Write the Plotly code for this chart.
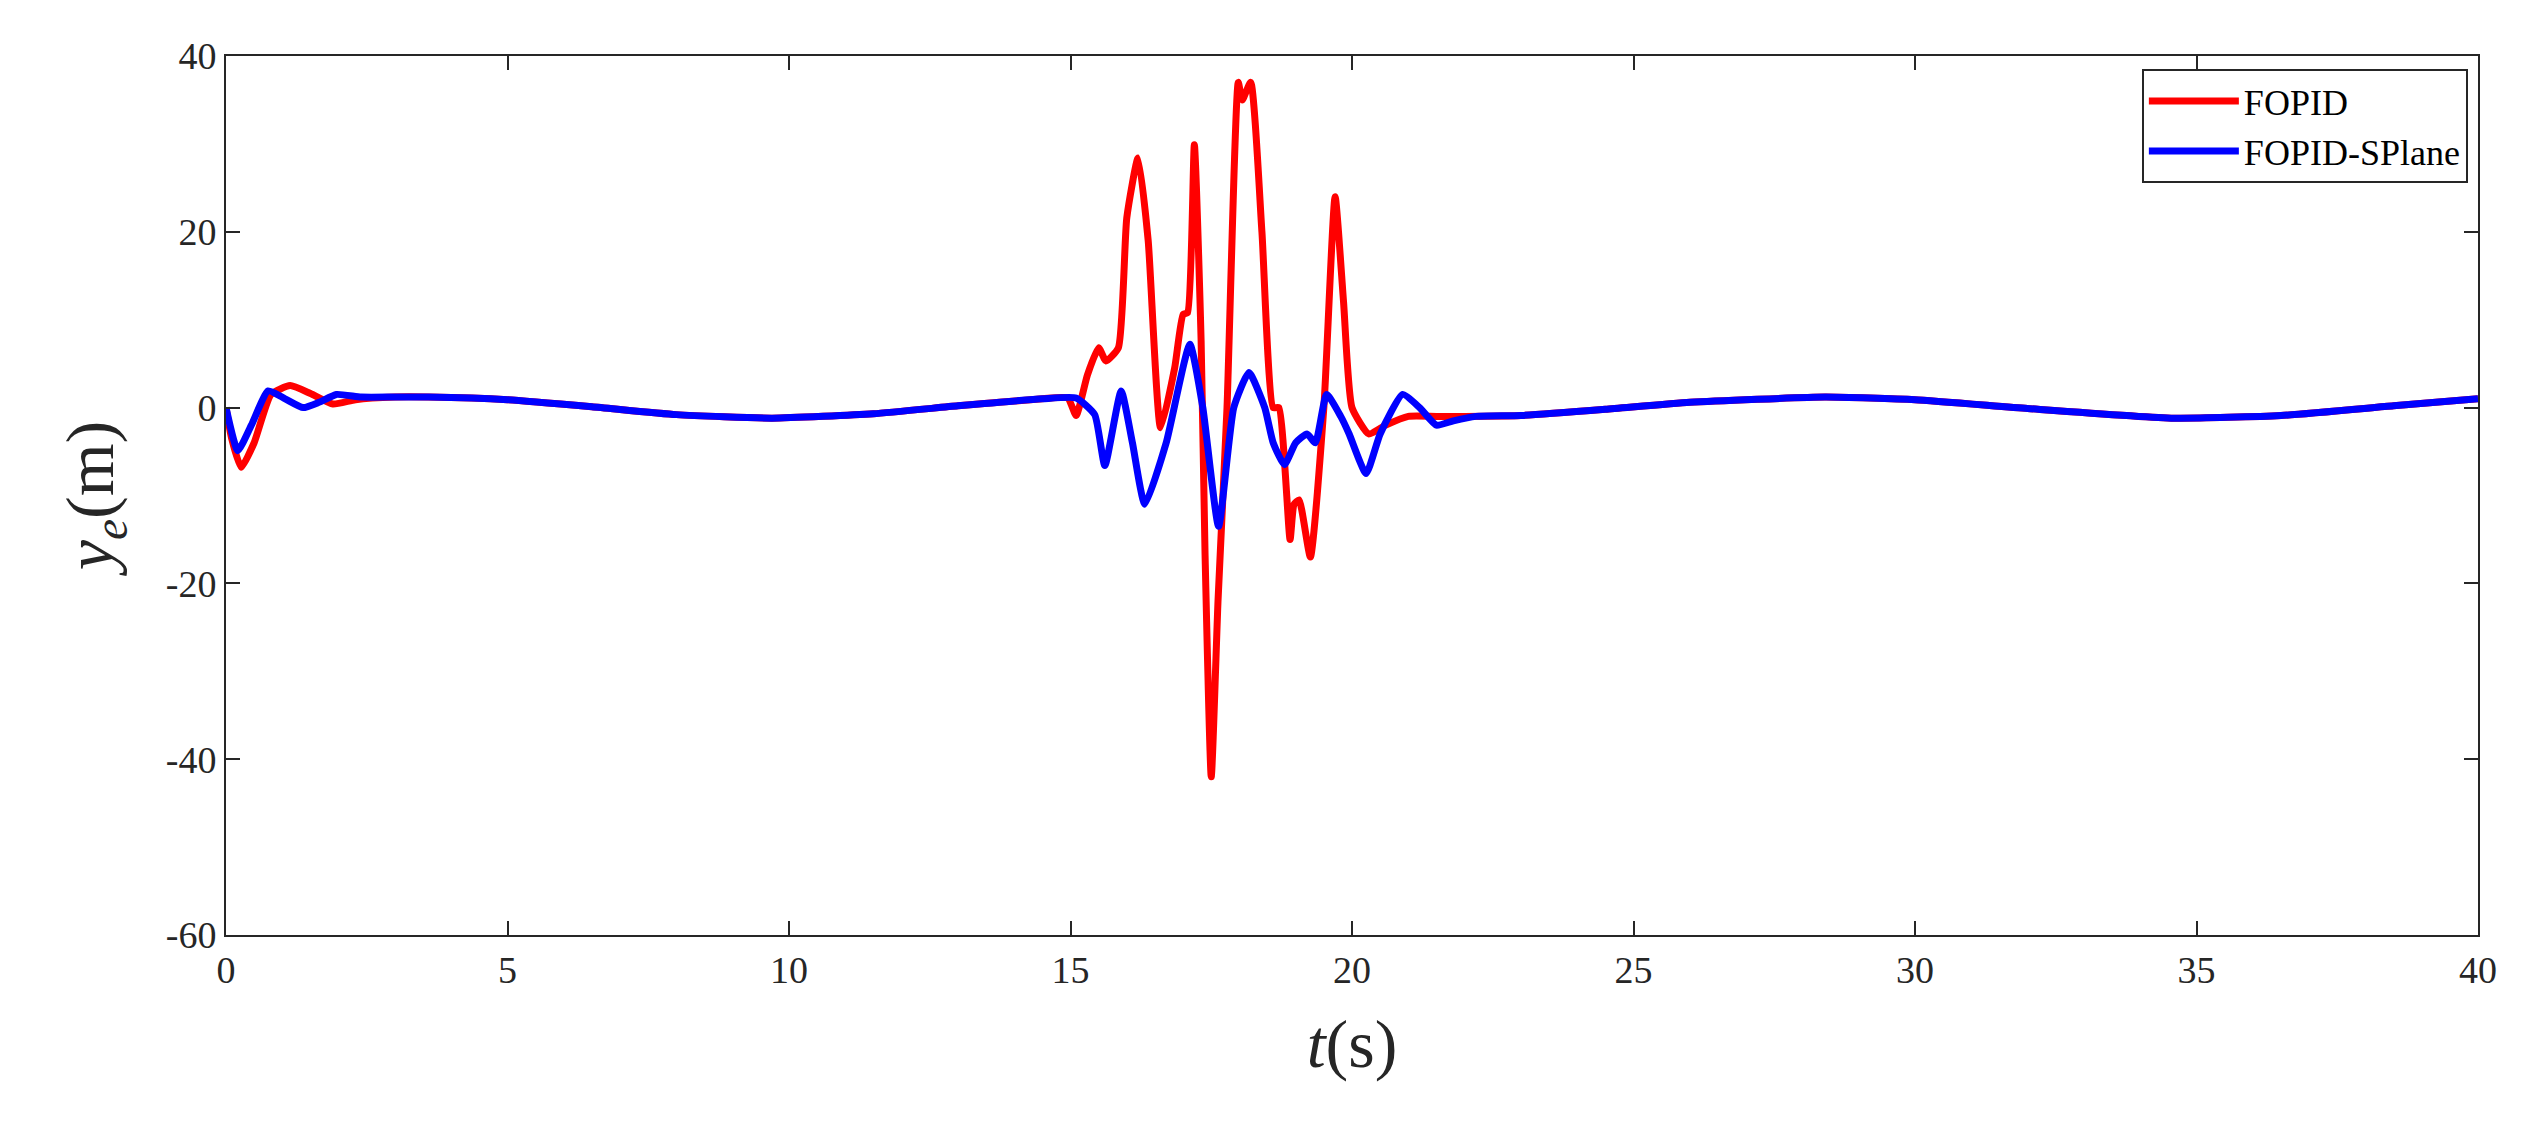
import plotly.graph_objects as go

t_red = [0, 0.1, 0.27, 0.5, 0.8, 1.14, 1.5, 1.9, 2.3, 3.0, 3.6, 5.0, 6.5, 8.0, 9.7, 11.5, 13.0, 14.5, 14.95, 15.1, 15.3, 15.5, 15.63, 15.85, 16.0, 16.2, 16.38, 16.6, 16.85, 17.0, 17.08, 17.2, 17.32, 17.39, 17.5, 17.62, 17.78, 17.98, 18.05, 18.2, 18.4, 18.6, 18.7, 18.9, 18.97, 19.06, 19.26, 19.5, 19.7, 19.85, 20.0, 20.3, 20.6, 21.0, 21.5, 22.0, 23.0, 24.5, 26.0, 28.4, 30.0, 32.0, 34.6, 36.5, 38.5, 40.0]
y_red = [0, -3.5, -6.8, -4.0, 1.5, 2.5, 1.6, 0.4, 0.9, 1.2, 1.2, 0.9, 0.1, -0.8, -1.2, -0.7, 0.2, 1.0, 1.1, -0.9, 3.7, 6.8, 5.3, 6.8, 21.6, 28.4, 19.0, -2.3, 4.5, 10.6, 10.8, 29.9, 7.6, -16.7, -42.0, -22.0, 0.0, 37.0, 35.0, 37.0, 20.0, 0.0, 0.0, -15.0, -11.0, -10.5, -17.0, 0.0, 24.0, 12.0, 0.0, -3.0, -2.0, -1.0, -1.0, -1.0, -0.9, -0.2, 0.6, 1.2, 0.9, -0.1, -1.2, -0.9, 0.2, 1.0]

t_blue = [0, 0.21, 0.45, 0.75, 1.05, 1.37, 1.65, 1.96, 2.4, 3.0, 3.6, 5.0, 6.5, 8.0, 9.7, 11.5, 13.0, 14.5, 15.1, 15.43, 15.61, 15.9, 16.1, 16.32, 16.7, 17.12, 17.35, 17.63, 17.9, 18.17, 18.45, 18.6, 18.8, 19.0, 19.2, 19.35, 19.55, 19.8, 19.95, 20.25, 20.5, 20.9, 21.2, 21.5, 21.8, 22.2, 23.0, 24.5, 26.0, 28.4, 30.0, 32.0, 34.6, 36.5, 38.5, 40.0]
y_blue = [0, -4.9, -2.0, 1.9, 1.0, 0.0, 0.6, 1.5, 1.2, 1.2, 1.2, 0.9, 0.1, -0.8, -1.2, -0.7, 0.2, 1.0, 1.1, -0.8, -6.6, 1.9, -4.0, -11.0, -4.0, 7.2, 0.0, -13.5, 0.0, 4.0, 0.0, -4.0, -6.5, -4.0, -3.0, -4.0, 1.5, -1.0, -3.0, -7.5, -3.0, 1.5, 0.0, -2.0, -1.5, -1.0, -0.9, -0.2, 0.6, 1.2, 0.9, -0.1, -1.2, -0.9, 0.2, 1.0]

x_ticks = [0, 5, 10, 15, 20, 25, 30, 35, 40]
y_ticks = [-60, -40, -20, 0, 20, 40]
y_tick_labels = ["-60", "-40", "-20", "0", "20", "40"]

fig = go.Figure()
fig.add_trace(go.Scatter(x=t_red, y=y_red, mode="lines", name="FOPID",
                         line=dict(color="#ff0000", width=7, shape="spline", smoothing=0.5)))
fig.add_trace(go.Scatter(x=t_blue, y=y_blue, mode="lines", name="FOPID-SPlane",
                         line=dict(color="#0000ff", width=7, shape="spline", smoothing=0.5)))

ax = dict(showgrid=False, zeroline=False, showline=True, mirror="ticks", linecolor="#262626",
          linewidth=2, ticks="inside", ticklen=14, tickwidth=2, tickcolor="#262626",
          tickfont=dict(family="Liberation Serif", size=38, color="#262626"))
fig.update_xaxes(range=[0, 40], tickvals=x_ticks, **ax,
                 title=dict(text="<i>t</i>(s)", font=dict(family="Liberation Serif", size=68, color="#262626"), standoff=30))
fig.update_yaxes(range=[-60, 40], tickvals=y_ticks, ticktext=y_tick_labels, **ax,
                 title=dict(text="<i>y<sub>e</sub></i>(m)", font=dict(family="Liberation Serif", size=68, color="#262626"), standoff=30))

fig.update_layout(
    width=2523, height=1132, paper_bgcolor="white", plot_bgcolor="white",
    margin=dict(l=218, r=53, t=48, b=205),
    showlegend=True,
    legend=dict(x=0.9955, y=0.985, xanchor="right", yanchor="top", bgcolor="white",
                bordercolor="#262626", borderwidth=2,
                font=dict(family="Liberation Serif", size=36, color="black"),
                itemwidth=90, tracegroupgap=4),
)
fig.write_html("out.html")
